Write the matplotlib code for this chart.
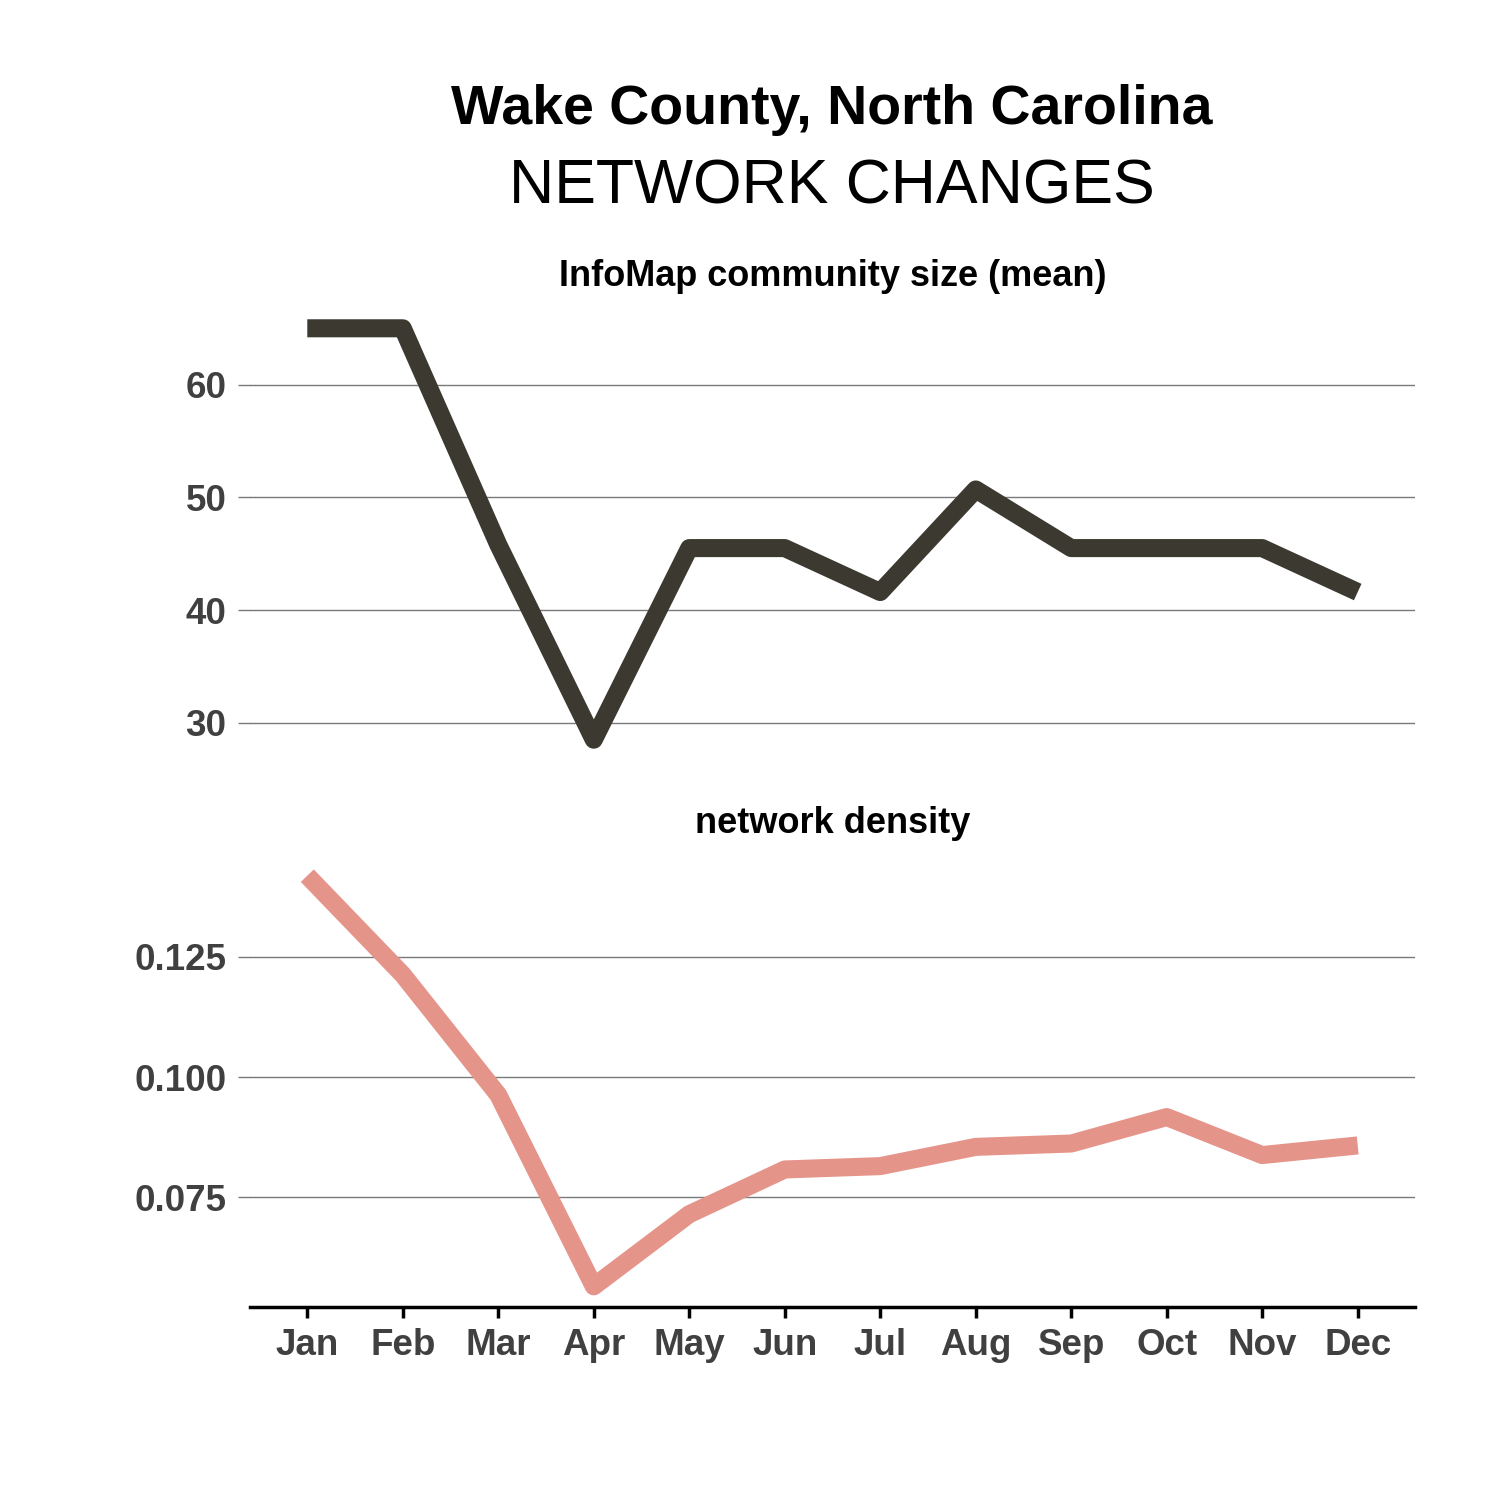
import matplotlib
matplotlib.use("Agg")
import matplotlib.pyplot as plt

plt.rcParams['font.family'] = ['Liberation Sans', 'DejaVu Sans']

months = ["Jan", "Feb", "Mar", "Apr", "May", "Jun", "Jul", "Aug", "Sep", "Oct", "Nov", "Dec"]
community_size = [65.0, 65.0, 45.8, 28.5, 45.5, 45.5, 41.6, 50.7, 45.5, 45.5, 45.5, 41.6]
density = [0.1419, 0.1213, 0.0963, 0.0565, 0.0715, 0.0808, 0.0815, 0.0855, 0.0862, 0.0917, 0.0838, 0.0858]
top_ticks = [30, 40, 50, 60]
bottom_ticks = [0.075, 0.100, 0.125]
bottom_ticklabels = ["0.075", "0.100", "0.125"]

x = list(range(1, len(months) + 1))

fig = plt.figure(figsize=(15, 15), dpi=100)
L, R = 250 / 1500, 1415 / 1500
ax1 = fig.add_axes([L, 1 - 760 / 1500, R - L, (760 - 308) / 1500])
ax2 = fig.add_axes([L, 1 - 1307 / 1500, R - L, (1307 - 855) / 1500])

grid_col = "#7a7a7a"
tick_col = "#404040"

def style(ax):
    for s in ax.spines.values():
        s.set_visible(False)
    ax.set_xlim(0.4, 12.6)
    ax.yaxis.grid(True, color=grid_col, linewidth=1.0)
    ax.set_axisbelow(True)
    ax.tick_params(axis='y', length=9, width=1.0, color=grid_col, pad=8,
                   labelsize=26.5, labelcolor=tick_col)
    for lab in ax.get_yticklabels():
        lab.set_fontweight('bold')

ax1.plot(x, community_size, color="#3b3930", linewidth=13, solid_capstyle='butt',
         solid_joinstyle='round')
ax1.set_ylim(26.7, 66.8)
ax1.set_yticks(top_ticks)
ax1.set_xticks([])
style(ax1)
ax1.set_title("InfoMap community size (mean)", fontsize=26, fontweight='bold', pad=16)

ax2.plot(x, density, color="#e5948a", linewidth=13, solid_capstyle='butt',
         solid_joinstyle='round')
ax2.set_ylim(0.0522, 0.1462)
ax2.set_yticks(bottom_ticks)
ax2.set_yticklabels(bottom_ticklabels)
style(ax2)
ax2.spines['bottom'].set_visible(True)
ax2.spines['bottom'].set_linewidth(2.5)
ax2.spines['bottom'].set_color('black')
ax2.set_xticks(x)
ax2.set_xticklabels(months, fontsize=26.5, fontweight='bold', color=tick_col)
ax2.tick_params(axis='x', length=8, width=2.5, color='black', pad=7)
ax2.set_title("network density", fontsize=26, fontweight='bold', pad=16)

fig.text(832 / 1500, 1 - 124 / 1500, "Wake County, North Carolina", ha='center',
         va='baseline', fontsize=40, fontweight='bold')
fig.text(832 / 1500, 1 - 203 / 1500, "NETWORK CHANGES", ha='center',
         va='baseline', fontsize=45)

fig.savefig("out.png", dpi=100, facecolor='white')
